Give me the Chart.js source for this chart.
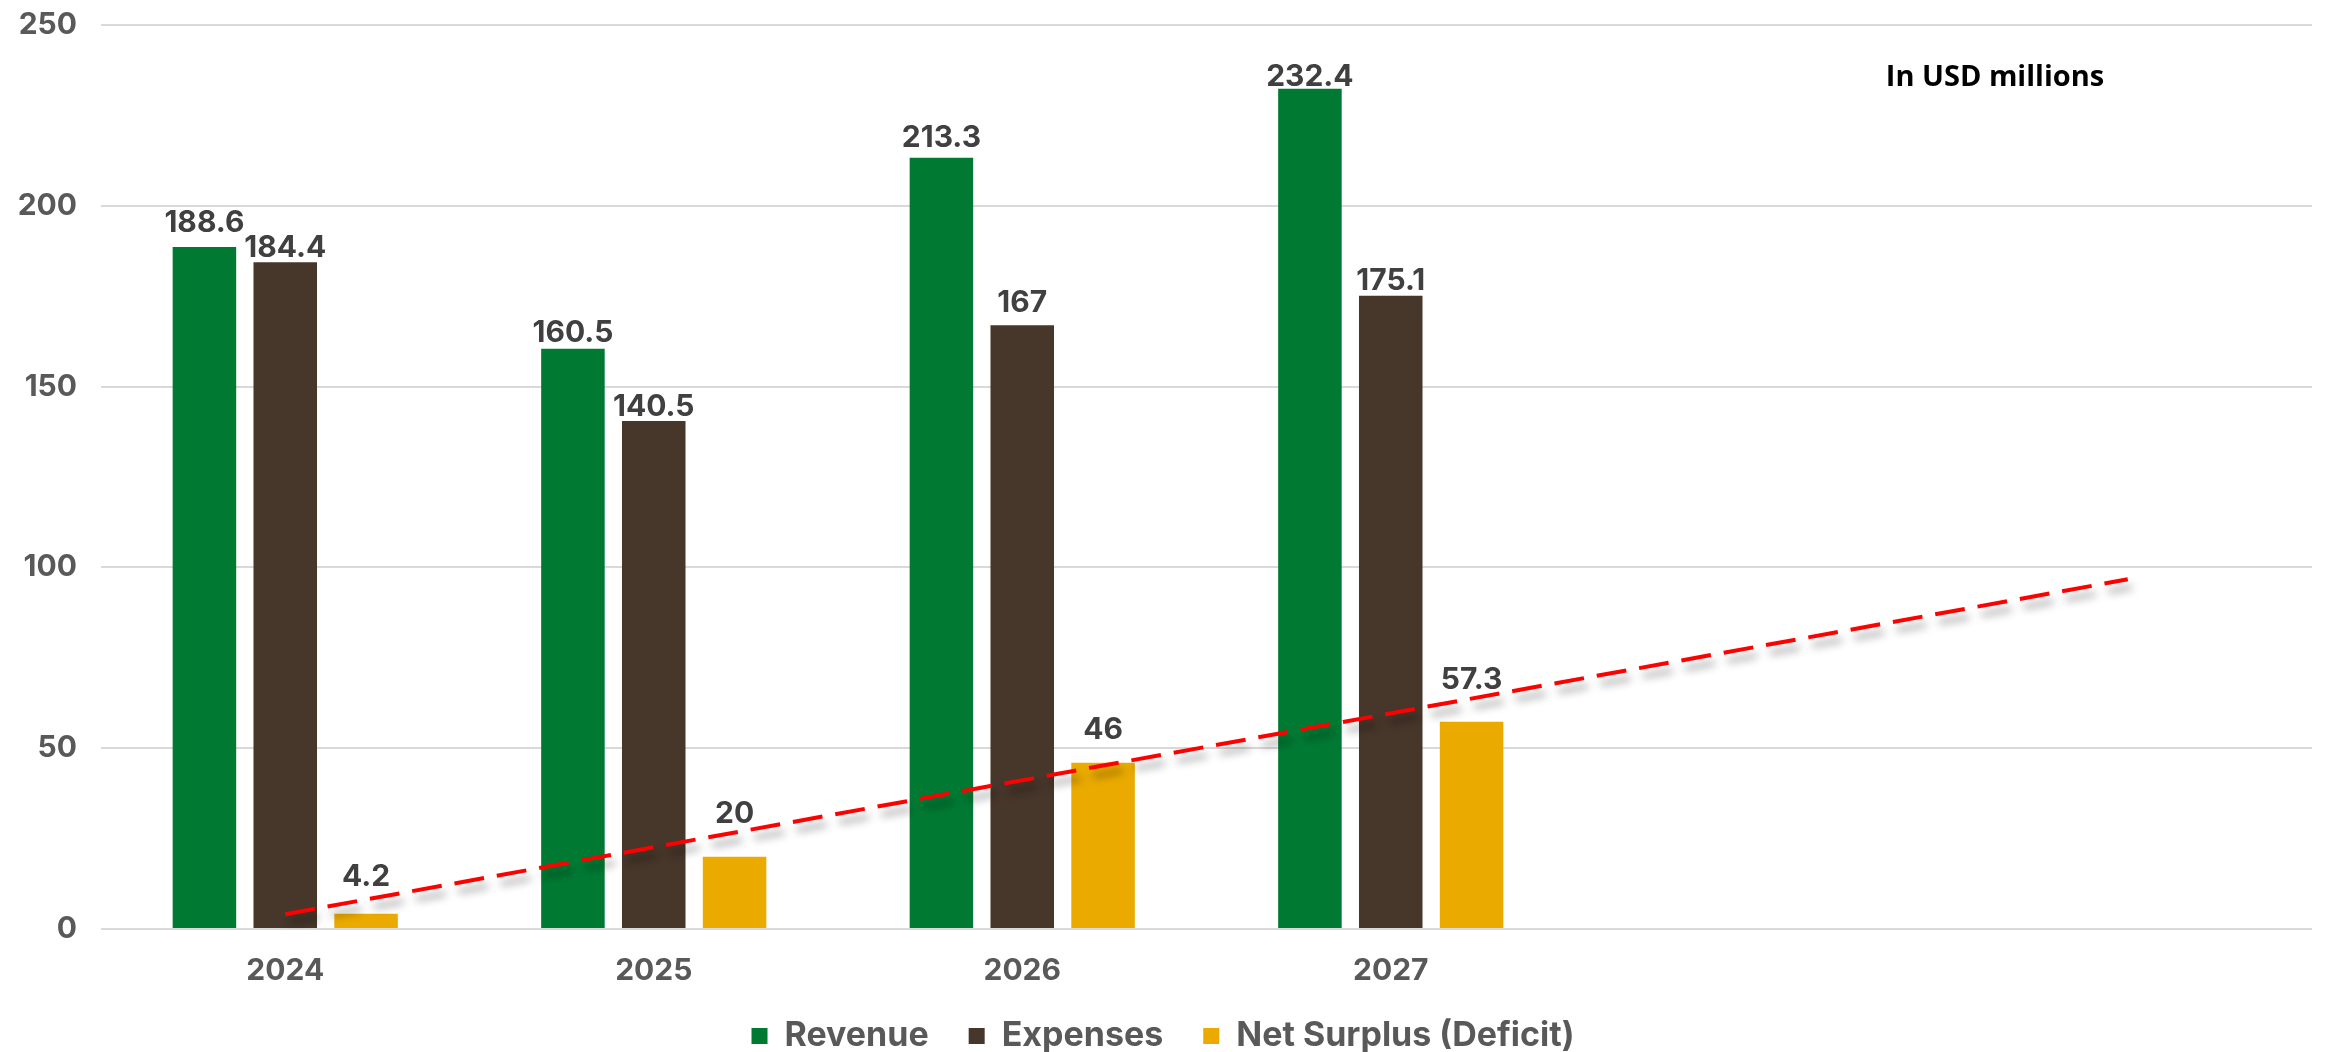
<!DOCTYPE html>
<html>
<head>
<meta charset="utf-8">
<script src="https://cdn.jsdelivr.net/npm/chart.js@4.4.1/dist/chart.umd.min.js"></script>
<style>
    body { margin: 0; background: #fff; }
    .chart-wrap { width: 2325px; height: 1052px; position: relative; }
</style>
</head>
<body>
<div class="chart-wrap"><canvas id="chart"></canvas></div>
<script>
const years = ['2024', '2025', '2026', '2027', '', '']
const revenue = [188.6, 160.5, 213.3, 232.4]
const expenses = [184.4, 140.5, 167, 175.1]
const netSurplus = [4.2, 20, 46, 57.3]
// trendline ends
const trend = [4.1, null, null, null, null, 96.7]
const yTicks = [0, 50, 100, 150, 200, 250]

const colors = {
    revenue: '#007A33',
    expenses: '#47362A',
    net: '#EAAA00',
    trend: '#FF0000',
    grid: '#D9D9D9',
    tick: '#595959',
    label: '#404040'
}

const font = 'Inter, "DejaVu Sans", sans-serif'

// value labels above the bars, gap (px) per bar like the original placement
const barLabels = {
    id: 'barLabels',
    afterDatasetsDraw(chart) {
        const ctx = chart.ctx
        ctx.save()
        ctx.font = `700 30px ${font}`
        ctx.fillStyle = colors.label
        ctx.textAlign = 'center'
        ctx.textBaseline = 'alphabetic'
        chart.data.datasets.forEach((ds, i) => {
            if (ds.type === 'line') return
            const meta = chart.getDatasetMeta(i)
            meta.data.forEach((bar, j) => {
                ctx.fillText(String(ds.data[j]), bar.x, bar.y - ds.labelGap[j])
            })
        })
        ctx.restore()
    }
}

// note in the upper right corner
const unitNote = {
    id: 'unitNote',
    afterDraw(chart) {
        const { ctx, chartArea } = chart
        ctx.save()
        ctx.font = '700 29px "Open Sans", sans-serif'
        ctx.fillStyle = '#000'
        ctx.textAlign = 'center'
        ctx.textBaseline = 'middle'
        ctx.fillText('In USD millions', chartArea.right - 317, chartArea.top + 53)
        ctx.restore()
    }
}

// soft shadow under the trend line
const lineShadow = {
    id: 'lineShadow',
    beforeDatasetDraw(chart, args) {
        if (chart.data.datasets[args.index].type !== 'line') return
        const ctx = chart.ctx
        ctx.save()
        ctx.shadowColor = 'rgba(0, 0, 0, 0.4)'
        ctx.shadowBlur = 8
        ctx.shadowOffsetX = 4
        ctx.shadowOffsetY = 8
    },
    afterDatasetDraw(chart, args) {
        if (chart.data.datasets[args.index].type !== 'line') return
        chart.ctx.restore()
    }
}

// fixed legend height, then pull the legend row up a bit
const legendBox = {
    id: 'legendBox',
    beforeInit(chart) {
        const fit = chart.legend.fit
        chart.legend.fit = function () {
            fit.bind(chart.legend)()
            this.height = 63
        }
    },
    afterLayout(chart) {
        chart.legend.top -= 10
    }
}

new Chart(document.getElementById('chart'), {
    type: 'bar',
    data: {
        labels: years,
        datasets: [{
            label: 'Revenue',
            data: revenue,
            backgroundColor: colors.revenue,
            labelGap: [15, 7, 11, 3],
            order: 1
        }, {
            label: 'Expenses',
            data: expenses,
            backgroundColor: colors.expenses,
            labelGap: [5, 5, 13, 6],
            order: 1
        }, {
            label: 'Net Surplus (Deficit)',
            data: netSurplus,
            backgroundColor: colors.net,
            labelGap: [28, 34, 24, 33],
            order: 1
        }, {
            type: 'line',
            label: 'trend',
            data: trend,
            borderColor: colors.trend,
            borderWidth: 4,
            borderDash: [30, 13],
            pointRadius: 0,
            spanGaps: true,
            fill: false,
            order: 0
        }]
    },
    options: {
        animation: false,
        responsive: true,
        maintainAspectRatio: false,
        categoryPercentage: 0.658,
        barPercentage: 0.786,
        layout: {
            padding: { left: 14, right: 13, top: 25, bottom: 0 }
        },
        plugins: {
            legend: {
                position: 'bottom',
                labels: {
                    filter: item => item.text !== 'trend',
                    font: { family: font, size: 34, weight: '700' },
                    color: colors.tick,
                    boxWidth: 16,
                    boxHeight: 16,
                    padding: 40
                }
            },
            tooltip: { enabled: false }
        },
        scales: {
            x: {
                grid: { display: false, drawTicks: false },
                border: { display: false },
                afterFit: scale => {
                    scale.height = 60
                    scale.paddingLeft = 0
                    scale.paddingRight = 0
                },
                ticks: {
                    font: { family: font, size: 30, weight: '700' },
                    color: colors.tick,
                    padding: 24
                }
            },
            y: {
                min: 0,
                max: 250,
                afterBuildTicks: scale => {
                    scale.ticks = yTicks.map(v => ({ value: v }))
                },
                afterFit: scale => {
                    scale.width = 87
                    scale.paddingTop = 0
                    scale.paddingBottom = 0
                },
                grid: {
                    color: colors.grid,
                    lineWidth: 2,
                    drawTicks: false
                },
                border: { display: false },
                ticks: {
                    font: { family: font, size: 30, weight: '700' },
                    color: colors.tick,
                    padding: 24
                }
            }
        }
    },
    plugins: [barLabels, unitNote, lineShadow, legendBox]
})
</script>
</body>
</html>
